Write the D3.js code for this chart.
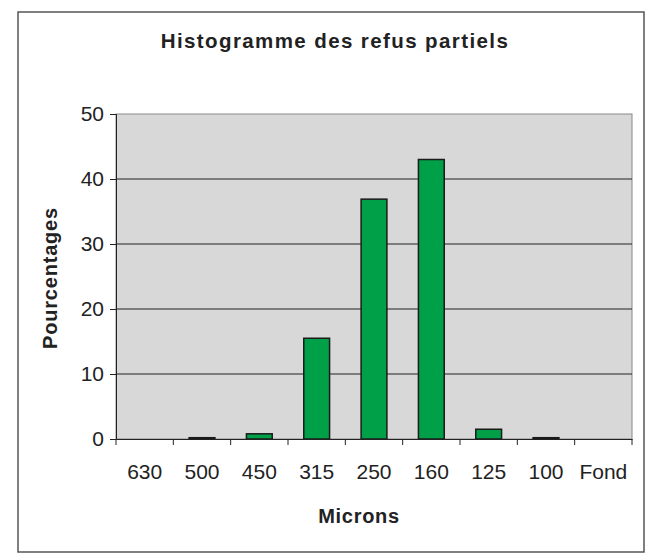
<!DOCTYPE html>
<html>
<head>
<meta charset="utf-8">
<script src="https://cdn.jsdelivr.net/npm/d3@7"></script>
<style>
  body { margin: 0; background: #fff; }
  text { font-family: "Liberation Sans", Arial, sans-serif; fill: #222; }
</style>
</head>
<body>
<svg id="chart" width="649" height="558"></svg>
<script>
const categories = ['630', '500', '450', '315', '250', '160', '125', '100', 'Fond'];
const values = [0, 0.2, 0.8, 15.5, 36.9, 43.0, 1.5, 0.2, 0];
const yTicks = [0, 10, 20, 30, 40, 50];

const svg = d3.select('#chart');
const margin = {top: 114, right: 17, bottom: 119, left: 116};
const width = 649 - margin.left - margin.right;
const height = 558 - margin.top - margin.bottom;

// outer frame
svg.append('rect')
  .attr('x', 18).attr('y', 12)
  .attr('width', 626).attr('height', 540)
  .attr('fill', '#fff')
  .attr('stroke', '#555')
  .attr('stroke-width', 1.5);

const g = svg.append('g').attr('transform', `translate(${margin.left},${margin.top})`);

const x = d3.scaleBand()
  .domain(categories)
  .range([0, width])
  .paddingInner(0.55)
  .paddingOuter(0.275);

const y = d3.scaleLinear()
  .domain([0, 50])
  .range([height, 0]);

// plot background
g.append('rect')
  .attr('width', width).attr('height', height)
  .attr('fill', '#d8d8d8')
  .attr('stroke', '#888')
  .attr('stroke-width', 1);

// gridlines
g.append('g')
  .selectAll('line')
  .data(yTicks.filter(d => d > 0 && d < 50))
  .enter().append('line')
  .attr('x1', 0).attr('x2', width)
  .attr('y1', d => y(d)).attr('y2', d => y(d))
  .attr('stroke', '#222')
  .attr('stroke-width', 1);

// bars
g.selectAll('.bar')
  .data(values)
  .enter().append('rect')
  .attr('class', 'bar')
  .attr('x', (d, i) => x(categories[i]))
  .attr('y', d => y(d))
  .attr('width', x.bandwidth())
  .attr('height', d => height - y(d))
  .attr('fill', '#00a048')
  .attr('stroke', '#1a1a1a')
  .attr('stroke-width', 1.5);

// y-axis
const yAxis = g.append('g')
  .call(d3.axisLeft(y).tickValues(yTicks).tickSize(6).tickPadding(6));
yAxis.select('.domain').attr('stroke', '#222');
yAxis.selectAll('line').attr('stroke', '#222');
yAxis.selectAll('text').style('font-size', '21px').attr('fill', '#222');

// x-axis
const xAxis = g.append('g')
  .attr('transform', `translate(0,${height})`)
  .call(d3.axisBottom(x).tickSize(0).tickPadding(25));
xAxis.select('.domain').attr('stroke', '#222');
xAxis.selectAll('text').style('font-size', '21px').attr('fill', '#222');

// category separators on x-axis
const step = width / categories.length;
g.append('g')
  .selectAll('line')
  .data(d3.range(categories.length + 1))
  .enter().append('line')
  .attr('x1', d => d * step).attr('x2', d => d * step)
  .attr('y1', height).attr('y2', height + 6)
  .attr('stroke', '#222');

// title
svg.append('text')
  .attr('x', 335)
  .attr('y', 48)
  .attr('text-anchor', 'middle')
  .style('font-size', '20.5px')
  .style('font-weight', 'bold')
  .style('letter-spacing', '1.4px')
  .text('Histogramme des refus partiels');

// axis labels
svg.append('text')
  .attr('x', 359)
  .attr('y', 523)
  .attr('text-anchor', 'middle')
  .style('font-size', '20px')
  .style('font-weight', 'bold')
  .style('letter-spacing', '0.7px')
  .text('Microns');

svg.append('text')
  .attr('transform', 'translate(57,278) rotate(-90)')
  .attr('text-anchor', 'middle')
  .style('font-size', '20px')
  .style('font-weight', 'bold')
  .style('letter-spacing', '0.8px')
  .text('Pourcentages');
</script>
</body>
</html>
